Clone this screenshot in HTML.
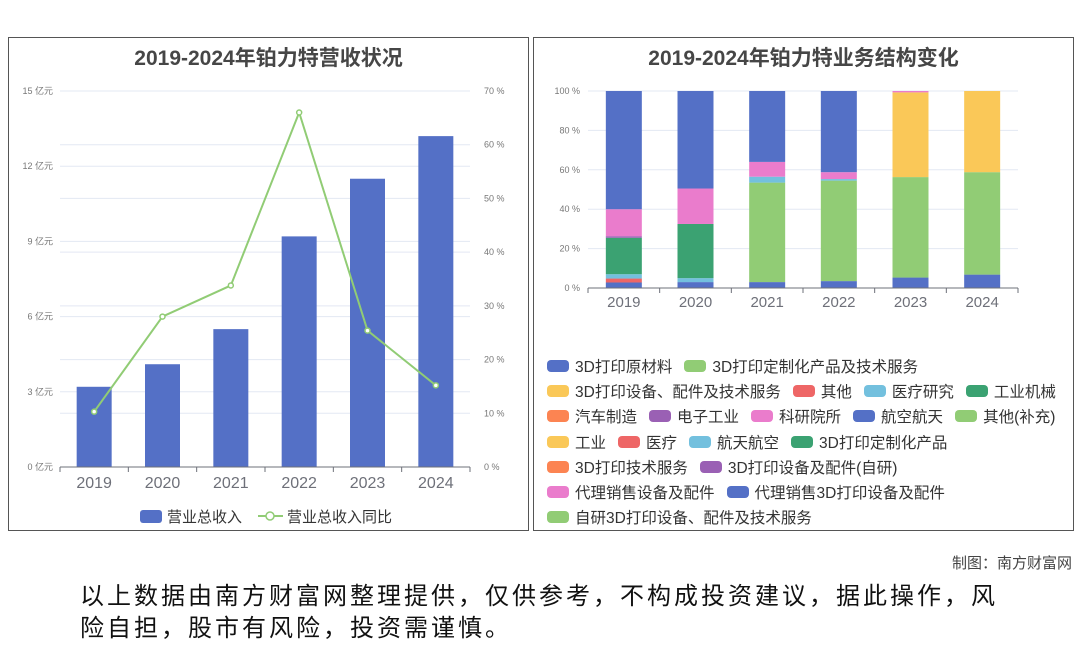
<!DOCTYPE html>
<html><head><meta charset="utf-8">
<style>
body{margin:0;width:1080px;height:646px;background:#fff;font-family:"Liberation Sans","Noto Sans CJK SC",sans-serif;overflow:hidden;position:relative}
.panel{position:absolute;border:1px solid #555;background:#fff}
.title{position:absolute;left:0;right:0;top:4px;text-align:center;font-weight:bold;font-size:21px;color:#464646}
.lg{position:absolute;left:547px;display:flex;gap:12px;font-size:15.5px;color:#333;white-space:nowrap}
.li{display:flex;align-items:center}
.mk{width:22px;height:12px;border-radius:4px;margin-right:6px}
</style></head><body>
<div class="panel" style="left:8px;top:37px;width:519px;height:492px">
<div class="title">2019-2024年铂力特营收状况</div></div>
<div class="panel" style="left:533px;top:37px;width:539px;height:492px">
<div class="title">2019-2024年铂力特业务结构变化</div></div>
<svg id="c" width="1080" height="646" style="position:absolute;left:0;top:0"></svg>
<div id="legend"></div>
<div style="position:absolute;right:8px;top:552px;font-size:15px;color:#444">制图：南方财富网</div>
<div style="position:absolute;left:80px;top:581px;width:1000px;font-size:24px;line-height:32px;letter-spacing:3px;color:#111;white-space:nowrap">以上数据由南方财富网整理提供，仅供参考，不构成投资建议，据此操作，风<br>险自担，股市有风险，投资需谨慎。</div>
<script>
const years=['2019','2020','2021','2022','2023','2024'];
const revenue=[3.2,4.1,5.5,9.2,11.5,13.2];
const growth=[10.3,28,33.8,66,25.4,15.2];
const revTicks=[0,3,6,9,12,15];
const pctTicks=[0,10,20,30,40,50,60,70];
const seriesNames=['3D打印原材料','3D打印定制化产品及技术服务','3D打印设备、配件及技术服务','其他','医疗研究','工业机械','汽车制造','电子工业','科研院所','航空航天','其他(补充)','工业','医疗','航天航空','3D打印定制化产品','3D打印技术服务','3D打印设备及配件(自研)','代理销售设备及配件','代理销售3D打印设备及配件','自研3D打印设备、配件及技术服务'];
const colors=['#5470c6','#91cc75','#fac858','#ee6666','#73c0de','#3ba272','#fc8452','#9a60b4','#ea7ccc','#5470c6','#91cc75','#fac858','#ee6666','#73c0de','#3ba272','#fc8452','#9a60b4','#ea7ccc','#5470c6','#91cc75'];
const s_raw=[2.8,3,3,3.5,5.3,6.8];
const s_custom=[0,0,50.5,51,51,52];
const s_equip=[0,0,0,0,43,41.2];
const s_other=[2,0,0,0,0,0];
const s_medical=[2.2,2,3,0.8,0,0];
const s_industry=[18.5,27.5,0,0,0,0];
const s_electronic=[0.8,0,0,0,0,0];
const s_research=[13.7,18,7.5,3.5,0.7,0];
const s_aero=[60,49.5,36,41.2,0,0];
const stackSeries=[[0,s_raw],[1,s_custom],[2,s_equip],[3,s_other],[4,s_medical],[5,s_industry],[7,s_electronic],[8,s_research],[9,s_aero]];
const stackTicks=[0,20,40,60,80,100];
const svg=document.getElementById('c');const NS='http://www.w3.org/2000/svg';
function mk(t,a,txt){const e=document.createElementNS(NS,t);for(const k in a)e.setAttribute(k,a[k]);if(txt!==undefined)e.textContent=txt;svg.appendChild(e);return e;}
const L={x0:60,x1:470,y0:467,y1:91};
const ly=v=>L.y0-(v/15)*(L.y0-L.y1), ry=v=>L.y0-(v/70)*(L.y0-L.y1);
const lbw=(L.x1-L.x0)/years.length, lx=i=>L.x0+lbw*(i+0.5);
pctTicks.forEach(v=>{const g=mk('line',{x1:L.x0,x2:L.x1,y1:ry(v),y2:ry(v),stroke:'#e3e8f3'});
const t=mk('text',{x:484,y:ry(v)+3,'font-size':9,fill:'#777'},v+' %');});
revTicks.forEach(v=>{const g=mk('line',{x1:L.x0,x2:L.x1,y1:ly(v),y2:ly(v),stroke:'#e3e8f3'});
const t=mk('text',{x:53,y:ly(v)+3,'font-size':9,fill:'#777','text-anchor':'end'},v+' 亿元');});
revenue.forEach((v,i)=>{const r=mk('rect',{x:lx(i)-17.5,y:ly(v),width:35,height:L.y0-ly(v),fill:'#5470c6'});});
mk('line',{x1:L.x0,x2:L.x1,y1:L.y0,y2:L.y0,stroke:'#6e7079'});
years.forEach((y,i)=>{mk('line',{x1:L.x0+lbw*i,x2:L.x0+lbw*i,y1:L.y0,y2:L.y0+5,stroke:'#6e7079'});
const t=mk('text',{x:lx(i),y:488,'font-size':16,fill:'#6e7079','text-anchor':'middle'},y);});
mk('line',{x1:L.x1,x2:L.x1,y1:L.y0,y2:L.y0+5,stroke:'#6e7079'});
const pl=mk('polyline',{points:growth.map((v,i)=>lx(i)+','+ry(v)).join(' '),fill:'none',stroke:'#91cc75','stroke-width':2});

growth.forEach((v,i)=>{const c=mk('circle',{cx:lx(i),cy:ry(v),r:2.5,fill:'#fff',stroke:'#91cc75','stroke-width':1.5});});
let e=mk('rect',{x:140,y:510,width:22,height:13,rx:3,fill:'#5470c6'});
e=mk('text',{x:167,y:522,'font-size':15,fill:'#333'},'营业总收入');
mk('line',{x1:258,x2:283,y1:516,y2:516,stroke:'#91cc75','stroke-width':2});
mk('circle',{cx:270,cy:516,r:4,fill:'#fff',stroke:'#91cc75','stroke-width':1.5});
e=mk('text',{x:287,y:522,'font-size':15,fill:'#333'},'营业总收入同比');
const R={x0:588,x1:1018,y0:288,y1:91};
const sy=v=>R.y0-(v/100)*(R.y0-R.y1);
const rbw=(R.x1-R.x0)/years.length, rx=i=>R.x0+rbw*(i+0.5);
stackTicks.forEach(v=>{const g=mk('line',{x1:R.x0,x2:R.x1,y1:sy(v),y2:sy(v),stroke:'#e3e8f3'});
const t=mk('text',{x:580,y:sy(v)+3,'font-size':9,fill:'#777','text-anchor':'end'},v+' %');});
years.forEach((y,i)=>{let acc=0;stackSeries.forEach(([ci,arr])=>{const v=arr[i];if(v>0){const r=mk('rect',{x:rx(i)-18,y:sy(acc+v),width:36,height:sy(acc)-sy(acc+v),fill:colors[ci]});}acc+=v;});});
mk('line',{x1:R.x0,x2:R.x1,y1:R.y0,y2:R.y0,stroke:'#6e7079'});
years.forEach((y,i)=>{mk('line',{x1:R.x0+rbw*i,x2:R.x0+rbw*i,y1:R.y0,y2:R.y0+5,stroke:'#6e7079'});
const t=mk('text',{x:rx(i),y:307,'font-size':15,fill:'#6e7079','text-anchor':'middle'},y);});
mk('line',{x1:R.x1,x2:R.x1,y1:R.y0,y2:R.y0+5,stroke:'#6e7079'});
const rows=[[0,1],[2,3,4,5],[6,7,8,9,10],[11,12,13,14],[15,16],[17,18],[19]];
const lg=document.getElementById('legend');
rows.forEach((row,ri)=>{const d=document.createElement('div');d.className='lg';d.style.top=(355+ri*25.2)+'px';


row.forEach(k=>{const it=document.createElement('div');it.className='li';


it.innerHTML='<span class="mk" style="background:'+colors[k]+'"></span>'+seriesNames[k];d.appendChild(it);});
lg.appendChild(d);});
</script>
</body></html>
